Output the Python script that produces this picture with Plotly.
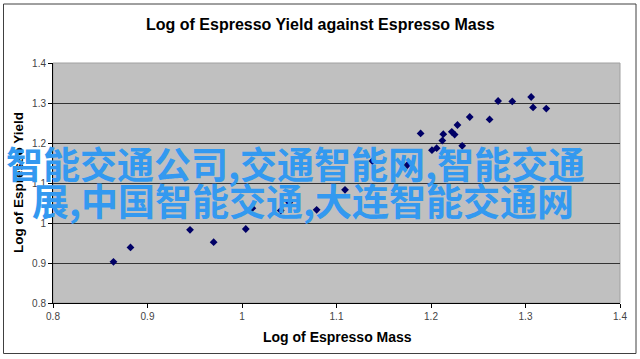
import plotly.graph_objects as go

# Data
log_mass = [0.864, 0.882, 0.945, 0.970, 1.004, 1.011, 1.041, 1.050, 1.079, 1.109,
            1.138, 1.175, 1.189, 1.201, 1.206, 1.212, 1.213, 1.222, 1.225, 1.228,
            1.233, 1.241, 1.262, 1.271, 1.286, 1.306, 1.308, 1.322]
log_yield = [0.903, 0.939, 0.983, 0.952, 0.985, 1.037, 1.031, 1.051, 1.033, 1.083,
             1.155, 1.145, 1.224, 1.182, 1.187, 1.206, 1.222, 1.228, 1.221, 1.245,
             1.193, 1.265, 1.259, 1.305, 1.304, 1.315, 1.289, 1.286]
tick_vals = [0.8, 0.9, 1.0, 1.1, 1.2, 1.3, 1.4]
tick_text = ["0.8", "0.9", "1", "1.1", "1.2", "1.3", "1.4"]

title_text = "Log of Espresso Yield against Espresso Mass"
x_title = "Log of Espresso Mass"
y_title = "Log of Espresso Yield"
overlay_lines = ["智能交通公司,交通智能网,智能交通", "展,中国智能交通,大连智能交通网"]

W, H = 640, 359
L, R, T, B = 53, 20, 63, 56
PW, PH = W - L - R, H - T - B

def px(xp):
    return (xp - L) / PW

def py(yp):
    return (H - B - yp) / PH

fig = go.Figure()
fig.add_trace(go.Scatter(
    x=log_mass, y=log_yield, mode="markers",
    marker=dict(symbol="diamond", size=6, color="#000066"),
    showlegend=False, hoverinfo="x+y"))

axis_font = dict(family="Liberation Sans, Arial, sans-serif", size=10, color="#444444")

fig.update_layout(
    width=W, height=H,
    margin=dict(l=L, r=R, t=T, b=B),
    paper_bgcolor="white", plot_bgcolor="#c0c0c0",
    xaxis=dict(range=[0.8, 1.4], tickvals=tick_vals, ticktext=tick_text,
               showgrid=False, zeroline=False, showline=True, linecolor="#000000",
               linewidth=1, ticks="outside", ticklen=4, tickcolor="#000000",
               tickfont=axis_font),
    yaxis=dict(range=[0.8, 1.4], tickvals=tick_vals, ticktext=tick_text,
               showgrid=True, gridcolor="#333333", gridwidth=1,
               zeroline=False, showline=True, linecolor="#000000",
               linewidth=1, ticks="outside", ticklen=4, tickcolor="#000000",
               tickfont=axis_font),
)

# plot area border (light grey) and outer chart border
fig.add_shape(type="rect", xref="paper", yref="paper", x0=0, x1=1, y0=0, y1=1,
              line=dict(color="#a0a0a0", width=1), layer="below")
fig.add_shape(type="rect", xref="paper", yref="paper",
              x0=px(3.5), x1=px(636), y0=py(353.5), y1=py(4),
              line=dict(color="#404040", width=1))

annos = [
    dict(text=f"<b>{title_text}</b>", x=px(320), y=py(25), size=16),
    dict(text=f"<b>{x_title}</b>", x=px(337), y=py(337), size=14),
]
for a in annos:
    fig.add_annotation(text=a["text"], x=a["x"], y=a["y"], xref="paper", yref="paper",
                       showarrow=False, xanchor="center", yanchor="middle",
                       font=dict(family="Liberation Sans, Arial, sans-serif",
                                 size=a["size"], color="#000000"))
fig.add_annotation(text=f"<b>{y_title}</b>", x=px(18), y=py(183), xref="paper", yref="paper",
                   showarrow=False, textangle=-90, xanchor="center", yanchor="middle",
                   font=dict(family="Liberation Sans, Arial, sans-serif", size=13.5,
                             color="#000000"))

# Chinese overlay text
for txt, xl, yc in [(overlay_lines[0], 4, 163), (overlay_lines[1], 30, 200)]:
    fig.add_annotation(text=f"<b>{txt}</b>", x=px(xl), y=py(yc), xref="paper", yref="paper",
                       showarrow=False, xanchor="left", yanchor="middle",
                       font=dict(family="Noto Sans CJK SC", size=37, color="#3399f0"))

fig.write_html("out.html", config={"displayModeBar": False},
               post_script="document.body.style.margin='0px';")
